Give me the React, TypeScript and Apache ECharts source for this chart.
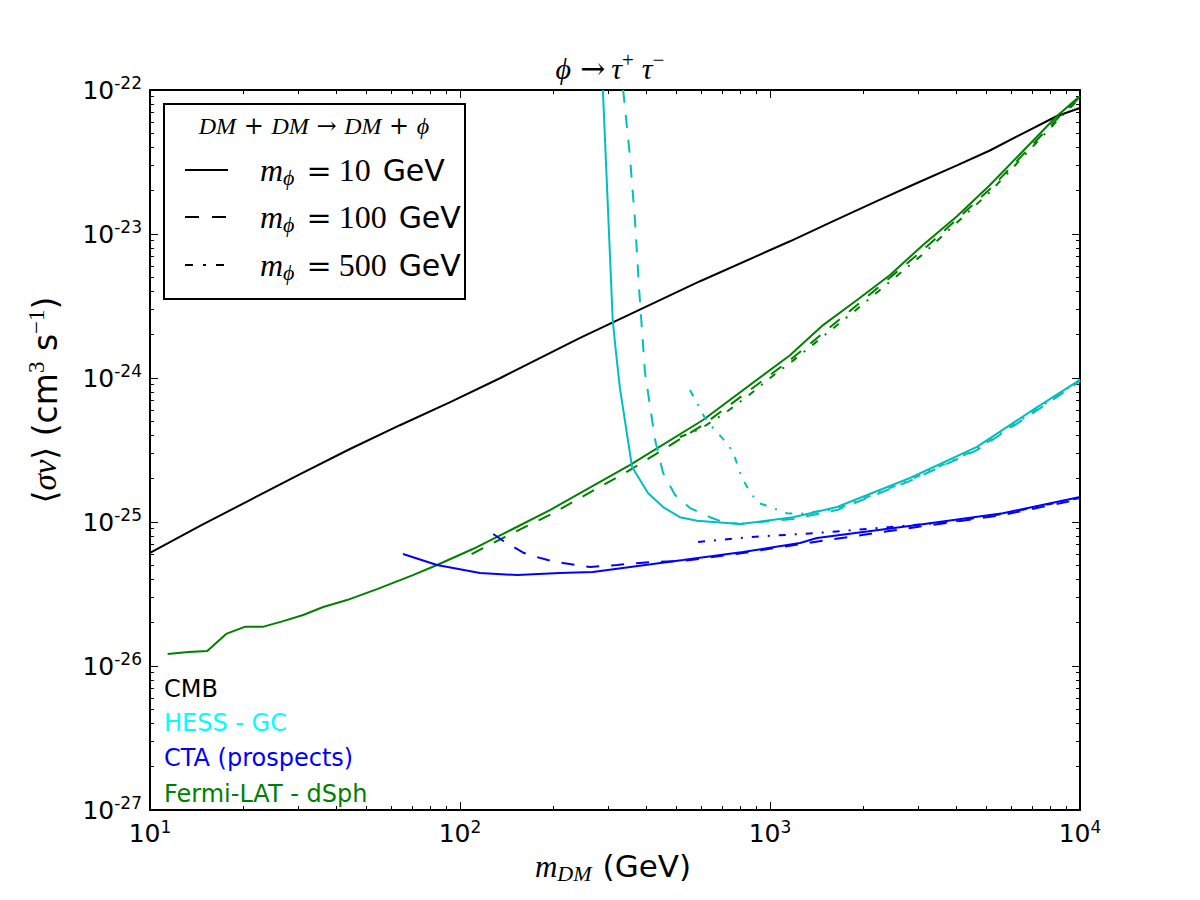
import React, { useEffect, useRef } from 'react';
import * as echarts from 'echarts';

// ---------- axis ticks ----------
const X_MAJOR = [10, 100, 1000, 10000];
const Y_MAJOR = [1e-27, 1e-26, 1e-25, 1e-24, 1e-23, 1e-22];
const X_MINOR: number[] = [];
for (const d of [10, 100, 1000]) for (let k = 2; k <= 9; k++) X_MINOR.push(k * d);
const Y_MINOR: number[] = [];
for (let e = -27; e <= -23; e++) for (let k = 2; k <= 9; k++) Y_MINOR.push(k * Math.pow(10, e));

// y values are plotted in units of 1e-27 cm^3 s^-1 (the library rounds tiny numbers away)
const Y_UNIT = 1e-27;
const toUnit = (v: number) => Number((v / Y_UNIT).toPrecision(6));

// ---------- data: [m_DM (GeV), <sigma v> (cm^3 s^-1)] ----------
const cmb: [number, number][] = [
  [10, 6.1e-26], [14.5, 9.4e-26], [21, 1.42e-25], [30.5, 2.15e-25], [44, 3.2e-25], [64, 4.7e-25],
  [93, 6.8e-25], [135, 1.0e-24], [244, 1.9e-24], [595, 4.7e-24], [1160, 8.9e-24], [1600, 1.23e-23],
  [2210, 1.69e-23], [2980, 2.26e-23], [4010, 3.0e-23], [5120, 3.8e-23], [6550, 5.0e-23], [8430, 6.6e-23],
  [10000, 7.5e-23],
];

const fermi10: [number, number][] = [
  [11.4, 1.21e-26], [13.3, 1.25e-26], [15.3, 1.27e-26], [17.6, 1.67e-26], [20.2, 1.87e-26], [23.1, 1.87e-26],
  [26.9, 2.05e-26], [31.2, 2.26e-26], [36.2, 2.57e-26], [43.2, 2.87e-26], [54, 3.42e-26], [70.5, 4.28e-26],
  [84.3, 5.03e-26], [110, 6.49e-26], [148, 8.94e-26], [195, 1.21e-25], [354, 2.49e-25], [608, 5.11e-25],
  [1160, 1.44e-24], [1483, 2.33e-24], [1909, 3.48e-24], [2439, 5.19e-24], [3116, 8.39e-24], [4011, 1.33e-23],
  [5124, 2.19e-23], [6549, 3.77e-23], [8430, 6.6e-23], [10000, 9.08e-23],
];
const fermi100: [number, number][] = [
  [109, 5.99e-26], [148, 8.39e-26], [195, 1.12e-25], [354, 2.3e-25], [608, 4.72e-25], [1160, 1.33e-24],
  [1909, 3.21e-24], [3116, 7.74e-24], [5124, 2.05e-23], [8430, 6.29e-23], [10000, 8.94e-23],
];
const fermi500: [number, number][] = [
  [512, 3.89e-25], [595, 4.42e-25], [716, 5.71e-25], [849, 7.5e-25], [1000, 1.0e-24], [1160, 1.27e-24],
  [1909, 3.01e-24], [3116, 7.26e-24], [5124, 1.96e-23], [8430, 6.09e-23], [10000, 8.8e-23],
];

const hess10: [number, number][] = [
  [289, 1e-22], [311, 2.5e-24], [318, 1.56e-24], [328, 8.5e-25], [359, 2.41e-25], [404, 1.59e-25],
  [452, 1.27e-25], [512, 1.08e-25], [582, 1.02e-25], [800, 9.7e-26], [908, 1.0e-25], [1187, 1.08e-25],
  [1645, 1.27e-25], [2830, 2.02e-25], [4650, 3.32e-25], [7050, 6.0e-25], [10000, 9.7e-25],
];
const hess100: [number, number][] = [
  [336, 1e-22], [353, 3.54e-23], [367, 1.23e-23], [378, 4.22e-24], [395, 1.1e-24], [426, 3.71e-25],
  [452, 2.19e-25], [494, 1.54e-25], [552, 1.25e-25], [640, 1.08e-25], [705, 1.0e-25], [800, 9.7e-26],
  [1187, 1.05e-25], [1645, 1.21e-25], [2830, 1.93e-25], [4650, 3.16e-25], [7050, 5.71e-25], [10000, 9.5e-25],
];
const hess500: [number, number][] = [
  [552, 8.25e-25], [586, 6.49e-25], [617, 5.27e-25], [660, 4.42e-25], [721, 3.59e-25], [760, 3.06e-25],
  [812, 2.02e-25], [862, 1.62e-25], [915, 1.36e-25], [1022, 1.25e-25], [1134, 1.15e-25], [1250, 1.14e-25],
  [1645, 1.23e-25], [2830, 1.96e-25], [4650, 3.21e-25], [7050, 5.81e-25], [10000, 9.7e-25],
];

const cta10: [number, number][] = [
  [65.5, 5.99e-26], [84.3, 5.03e-26], [116, 4.42e-26], [153, 4.28e-26], [210, 4.42e-26], [268, 4.5e-26],
  [524, 5.44e-26], [818, 6.19e-26], [1250, 7.15e-26], [1418, 7.74e-26], [2981, 9.53e-26], [5643, 1.15e-25],
  [10000, 1.49e-25],
];
const cta100: [number, number][] = [
  [128, 8.25e-26], [138, 7.38e-26], [149, 6.71e-26], [161, 6.09e-26], [177, 5.71e-26], [192, 5.44e-26],
  [215, 5.19e-26], [263, 4.87e-26], [321, 5.03e-26], [410, 5.27e-26], [524, 5.36e-26], [818, 6.09e-26],
  [1250, 7.03e-26], [2981, 9.23e-26], [5643, 1.12e-25], [10000, 1.44e-25],
];
const cta500: [number, number][] = [
  [586, 7.26e-26], [862, 7.86e-26], [1418, 8.39e-26], [2438, 9.23e-26], [3807, 1.0e-25], [5643, 1.14e-25],
  [10000, 1.47e-25],
];

// ---------- styles ----------
const BLACK = '#000000';
const CYAN = '#00BFBF';
const BLUE = '#0000FF';
const GREEN = '#008000';
const DASH = [13, 12];
const DASHDOT = [7, 9, 2, 9];
const SANS = "'DejaVu Sans', sans-serif";
const MATH = "'Liberation Serif', 'DejaVu Serif', serif";
const MATHSYM = "'DejaVu Serif', serif";

const seriesDefs: { name: string; data: [number, number][]; color: string; dash: any }[] = [
  { name: 'CMB', data: cmb, color: BLACK, dash: 'solid' },
  { name: 'Fermi 10', data: fermi10, color: GREEN, dash: 'solid' },
  { name: 'Fermi 100', data: fermi100, color: GREEN, dash: DASH },
  { name: 'Fermi 500', data: fermi500, color: GREEN, dash: DASHDOT },
  { name: 'HESS 10', data: hess10, color: CYAN, dash: 'solid' },
  { name: 'HESS 100', data: hess100, color: CYAN, dash: DASH },
  { name: 'HESS 500', data: hess500, color: CYAN, dash: DASHDOT },
  { name: 'CTA 10', data: cta10, color: BLUE, dash: 'solid' },
  { name: 'CTA 100', data: cta100, color: BLUE, dash: DASH },
  { name: 'CTA 500', data: cta500, color: BLUE, dash: DASHDOT },
];

const tickRich = {
  b: { fontFamily: SANS, fontSize: 25, color: '#000' },
  s: { fontFamily: SANS, fontSize: 17, color: '#000', padding: [0, 0, 14, 0] },
};

const expOf = (v: number) => Math.round(Math.log10(v));

function makeX(position: 'bottom' | 'top', major: boolean) {
  return {
    type: 'log',
    logBase: 10,
    min: 10,
    max: 10000,
    gridIndex: 0,
    position,
    splitLine: { show: false },
    minorTick: { show: false },
    minorSplitLine: { show: false },
    axisLine: { show: major, onZero: false, lineStyle: { color: '#000', width: 2 } },
    axisTick: {
      show: true,
      inside: true,
      length: major ? 8 : 4,
      customValues: major ? X_MAJOR : X_MINOR,
      lineStyle: { color: '#000', width: 1 },
    },
    axisLabel: major && position === 'bottom'
      ? {
          show: true,
          customValues: X_MAJOR,
          margin: 8,
          formatter: (v: number) => `{b|10}{s|${expOf(v)}}`,
          rich: tickRich,
        }
      : { show: false },
  };
}

function makeY(position: 'left' | 'right', major: boolean) {
  const majors = Y_MAJOR.map(toUnit);
  const minors = Y_MINOR.map(toUnit);
  return {
    type: 'log',
    logBase: 10,
    min: toUnit(1e-27),
    max: toUnit(1e-22),
    gridIndex: 0,
    position,
    splitLine: { show: false },
    minorTick: { show: false },
    minorSplitLine: { show: false },
    axisLine: { show: major, onZero: false, lineStyle: { color: '#000', width: 2 } },
    axisTick: {
      show: true,
      inside: true,
      length: major ? 8 : 4,
      customValues: major ? majors : minors,
      lineStyle: { color: '#000', width: 1 },
    },
    axisLabel: major && position === 'left'
      ? {
          show: true,
          customValues: majors,
          margin: 8,
          formatter: (v: number) => `{b|10}{s|-${-(expOf(v) + Math.round(Math.log10(Y_UNIT)))}}`,
          rich: tickRich,
        }
      : { show: false },
  };
}

const mathRich = (size: number) => ({
  mi: { fontFamily: MATH, fontStyle: 'italic', fontSize: size, color: '#000' },
  mr: { fontFamily: MATH, fontSize: size, color: '#000' },
  ar: { fontFamily: MATHSYM, fontSize: size, color: '#000' },
  sub: { fontFamily: MATH, fontStyle: 'italic', fontSize: Math.round(size * 0.7), color: '#000', padding: [Math.round(size * 0.45), 0, 0, 0] },
  sup: { fontFamily: MATH, fontSize: Math.round(size * 0.7), color: '#000', padding: [0, 0, Math.round(size * 0.55), 0] },
  g: { fontFamily: SANS, fontSize: size, color: '#000' },
});

export default function App() {
  const ref = useRef<HTMLDivElement>(null);

  useEffect(() => {
    if (!ref.current) return;
    const chart = echarts.init(ref.current, undefined, { renderer: 'svg' });

    const legendRowY = [170, 217, 265];
    const legendDash: any[] = [null, [14, 13], [8, 10, 3, 10]];
    const legendMass = ['10', '100', '500'];

    const titleRich = {
      ...mathRich(30),
      ar: { fontFamily: MATHSYM, fontSize: 30, color: '#000', padding: [0, 6, 0, 9] },
      t2: { fontFamily: MATH, fontStyle: 'italic', fontSize: 30, color: '#000', padding: [0, 0, 0, 8] },
    };

    const graphic: any[] = [
      // title
      {
        type: 'text', x: 610, y: 68, z: 100,
        style: {
          text: '{mi|ϕ}{ar|→}{mi|τ}{sup|+}{t2|τ}{sup|−}',
          align: 'center', verticalAlign: 'middle',
          rich: titleRich,
        },
      },
      // x axis name
      {
        type: 'text', x: 613, y: 866, z: 100,
        style: {
          text: '{mi|m}{sub|DM}{gp|(GeV)}',
          align: 'center', verticalAlign: 'middle',
          rich: { ...mathRich(31), gp: { fontFamily: SANS, fontSize: 31, color: '#000', padding: [0, 0, 0, 11] } },
        },
      },
      // y axis name
      {
        type: 'text', x: 45, y: 400, rotation: Math.PI / 2, z: 100,
        style: {
          text: '{mr|⟨}{mi|σv}{mr|⟩}{g| (cm}{sup|3}{g| s}{sup|−1}{g|)}',
          align: 'center', verticalAlign: 'middle',
          rich: mathRich(33),
        },
      },
      // legend box
      {
        type: 'rect', z: 100,
        shape: { x: 164, y: 104, width: 301, height: 195 },
        style: { fill: '#fff', stroke: '#000', lineWidth: 2 },
      },
      {
        type: 'text', x: 314, y: 126, z: 101,
        style: {
          text: '{mi|DM}{ar| + }{mi|DM}{ar| → }{mi|DM}{ar| + }{mi|ϕ}',
          align: 'center', verticalAlign: 'middle',
          rich: mathRich(24),
        },
      },
    ];

    const legendRich = {
      ...mathRich(32),
      eq: { fontFamily: MATHSYM, fontSize: 30, color: '#000', padding: [0, 7, 0, 12] },
      num: { fontFamily: MATH, fontSize: 32, color: '#000', padding: [0, 12, 0, 0] },
      g: { fontFamily: SANS, fontSize: 30, color: '#000' },
    };

    legendRowY.forEach((y, i) => {
      graphic.push({
        type: 'line', z: 101,
        shape: { x1: 185, y1: y, x2: 228, y2: y },
        style: { stroke: '#000', lineWidth: 2, lineDash: legendDash[i] || undefined },
      });
      graphic.push({
        type: 'text', x: 260, y, z: 101,
        style: {
          text: `{mi|m}{sub|ϕ}{eq|=}{num|${legendMass[i]}}{g|GeV}`,
          align: 'left', verticalAlign: 'middle',
          rich: legendRich,
        },
      });
    });

    const labels = [
      { t: 'CMB', c: '#000000', y: 689 },
      { t: 'HESS - GC', c: '#00FFFF', y: 723 },
      { t: 'CTA (prospects)', c: '#0000FF', y: 758 },
      { t: 'Fermi-LAT - dSph', c: '#008000', y: 794 },
    ];
    labels.forEach((l) => {
      graphic.push({
        type: 'text', x: 164, y: l.y, z: 100,
        style: { text: l.t, fill: l.c, fontFamily: SANS, fontSize: 24, align: 'left', verticalAlign: 'middle' },
      });
    });

    chart.setOption({
      animation: false,
      backgroundColor: '#ffffff',
      grid: { left: 150, top: 90, width: 930, height: 720, containLabel: false },
      xAxis: [makeX('bottom', true), makeX('bottom', false), makeX('top', true), makeX('top', false)],
      yAxis: [makeY('left', true), makeY('left', false), makeY('right', true), makeY('right', false)],
      series: seriesDefs.map((s) => ({
        name: s.name,
        type: 'line',
        xAxisIndex: 0,
        yAxisIndex: 0,
        data: s.data.map(([m, v]) => [m, toUnit(v)]),
        symbol: 'none',
        showSymbol: false,
        silent: true,
        clip: true,
        lineStyle: { color: s.color, width: 2, type: s.dash },
      })),
      graphic,
    });

    return () => chart.dispose();
  }, []);

  return (
    <div
      ref={ref}
      style={{ position: 'fixed', left: 0, top: 0, width: 1200, height: 900, background: '#fff' }}
    />
  );
}
